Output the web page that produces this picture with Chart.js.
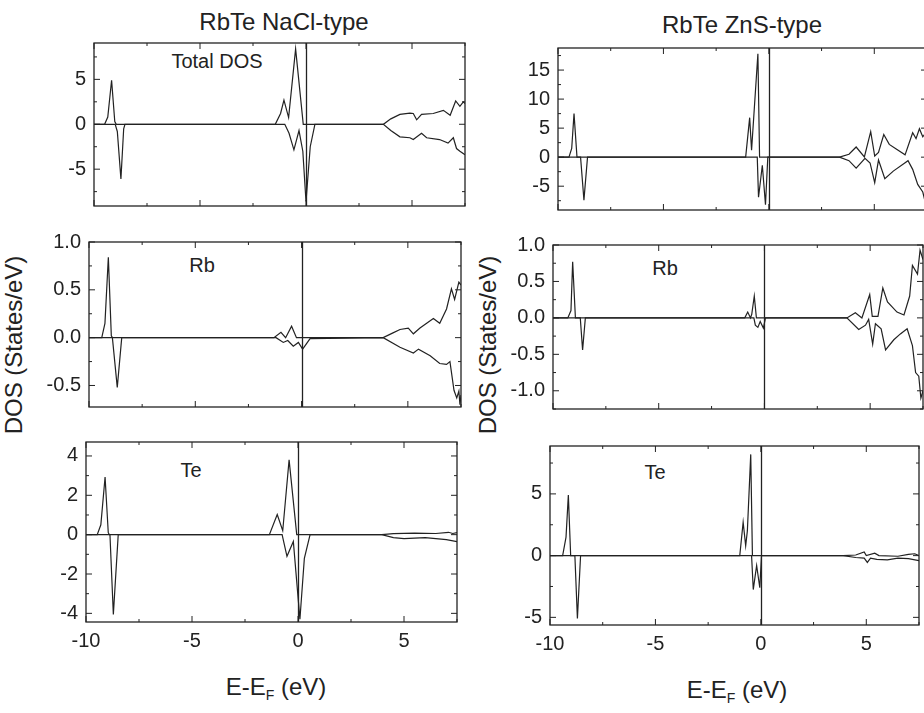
<!DOCTYPE html>
<html>
<head>
<meta charset="utf-8">
<script src="https://cdn.jsdelivr.net/npm/chart.js@4.4.1/dist/chart.umd.min.js"></script>
<style>
html, body { margin:0; padding:0; width:924px; height:713px; overflow:hidden; background:#fff; }
canvas { position:absolute; }
.lbl { position:absolute; font-family:"Liberation Sans", Arial, sans-serif; color:#222; white-space:nowrap; transform:translate(-50%,-50%); }
.rot { transform:translate(-50%,-50%) rotate(-90deg); }
sub { font-size:14px; }
</style>
</head>
<body>
<div class="lbl" style="left:284px;top:22px;font-size:24px">RbTe NaCl-type</div>
<div class="lbl" style="left:742px;top:25px;font-size:24px">RbTe ZnS-type</div>
<div class="lbl rot" style="left:14px;top:345px;font-size:24px">DOS (States/eV)</div>
<div class="lbl rot" style="left:488px;top:345px;font-size:24px">DOS (States/eV)</div>
<div class="lbl" style="left:276px;top:688px;font-size:24px">E-E<sub>F</sub> (eV)</div>
<div class="lbl" style="left:737px;top:691px;font-size:24px">E-E<sub>F</sub> (eV)</div>
<div class="lbl" style="left:217px;top:61px;font-size:20px">Total DOS</div>
<div class="lbl" style="left:202px;top:265px;font-size:20px">Rb</div>
<div class="lbl" style="left:191px;top:470px;font-size:20px">Te</div>
<div class="lbl" style="left:665px;top:268px;font-size:20px">Rb</div>
<div class="lbl" style="left:655px;top:472px;font-size:20px">Te</div>

<canvas id="c1"></canvas>
<canvas id="c2"></canvas>
<canvas id="c3"></canvas>
<canvas id="c4"></canvas>
<canvas id="c5"></canvas>
<canvas id="c6"></canvas>

<script>
// energy E-EF (eV) and DOS, spin up (+) / spin down (-)
const naclTotalUp = [[-10,0],[-9.5,0],[-9.35,0.8],[-9.17,4.9],[-9.02,0.3],[-8.95,0],[-1.45,0],[-1.2,1.2],[-1.04,2.7],[-0.82,0.75],[-0.49,8.4],[-0.13,0],[3.65,0],[4.0,0.6],[4.43,1.1],[4.9,1.25],[5.06,1.2],[5.22,0.5],[5.45,1.1],[6.0,1.2],[6.48,1.55],[6.8,1.0],[7.06,2.6],[7.26,2.0],[7.42,2.5],[7.5,2.3]];
const naclTotalDown = [[-10,0],[-9.0,0],[-8.9,-0.8],[-8.73,-6.1],[-8.6,-0.5],[-8.54,0],[-1.0,0],[-0.8,-1.0],[-0.57,-2.85],[-0.33,-0.7],[-0.15,-3.0],[0.0,-8.6],[0.2,-2.5],[0.42,0],[3.65,0],[4.0,-0.7],[4.43,-1.4],[4.9,-1.5],[5.06,-1.7],[5.45,-1.0],[5.69,-1.5],[6.3,-1.7],[6.7,-2.1],[6.95,-1.5],[7.1,-2.7],[7.26,-3.0],[7.5,-3.4]];
const naclRbUp = [[-10,0],[-9.4,0],[-9.25,0.15],[-9.09,0.84],[-8.95,0.02],[-8.9,0],[-1.3,0],[-0.97,0.055],[-0.75,0],[-0.47,0.12],[-0.24,0],[3.84,0],[4.3,0.05],[4.63,0.085],[5.02,0.1],[5.26,0.04],[5.57,0.1],[6.2,0.2],[6.5,0.15],[6.82,0.3],[7.05,0.51],[7.2,0.4],[7.4,0.58],[7.5,0.55]];
const naclRbDown = [[-10,0],[-8.9,0],[-8.67,-0.52],[-8.46,0],[-1.2,0],[-0.86,-0.05],[-0.65,-0.03],[-0.39,-0.09],[-0.15,-0.05],[0.05,-0.12],[0.4,-0.01],[3.84,0],[4.63,-0.1],[5.26,-0.16],[5.5,-0.12],[6.05,-0.19],[6.5,-0.27],[6.82,-0.28],[6.98,-0.25],[7.17,-0.55],[7.3,-0.63],[7.4,-0.56],[7.45,-0.7],[7.5,-0.6]];
const naclTeUp = [[-10,0],[-9.47,0],[-9.3,0.5],[-9.1,2.93],[-8.95,0.1],[-8.9,0],[-1.35,0],[-0.98,1.02],[-0.72,0.2],[-0.42,3.8],[-0.06,0],[3.95,0],[4.5,0.05],[5.5,0.08],[6.5,0.06],[7.1,0.12],[7.3,0.06],[7.5,0.1]];
const naclTeDown = [[-10,0],[-8.87,0],[-8.71,-4.06],[-8.48,0],[-0.75,0],[-0.52,-1.1],[-0.22,-0.35],[0.09,-4.3],[0.3,-1.2],[0.57,0],[3.95,0],[4.5,-0.15],[5.0,-0.2],[6.0,-0.15],[6.5,-0.2],[7.0,-0.25],[7.5,-0.35]];

const znsTotalUp = [[-10,0],[-9.48,0],[-9.35,1.5],[-9.24,7.5],[-9.1,0],[-1.1,0],[-0.91,6.8],[-0.82,1.2],[-0.52,17.8],[-0.44,0],[3.35,0],[3.8,0.5],[4.14,1.75],[4.53,0.05],[4.83,4.4],[5.02,0.2],[5.2,0.8],[5.45,3.9],[5.71,2.2],[6.04,1.4],[6.46,0.4],[6.82,4.2],[6.98,3.2],[7.14,4.9],[7.3,3.5],[7.5,4.5]];
const znsTotalDown = [[-10,0],[-8.93,0],[-8.77,-7.4],[-8.6,0],[-0.55,0],[-0.49,-6.9],[-0.31,-1.4],[-0.16,-8.2],[-0.05,0],[3.35,0],[3.8,-0.6],[4.14,-1.9],[4.56,-0.2],[4.8,-1.0],[5.02,-4.4],[5.2,-0.5],[5.5,-3.7],[5.9,-2.4],[6.6,-0.6],[6.82,-2.1],[7.06,-4.7],[7.3,-6.0],[7.5,-9.0]];
const znsRbUp = [[-10,0],[-9.3,0],[-9.15,0.1],[-9.07,0.77],[-8.94,0],[-0.93,0],[-0.79,0.08],[-0.66,0],[-0.6,0.05],[-0.48,0.3],[-0.38,0],[3.9,0],[4.3,0.07],[4.61,0],[4.98,0.32],[5.1,0.02],[5.37,0.02],[5.6,0.41],[5.82,0.22],[6.27,0.08],[6.6,0.04],[6.87,0.3],[7.0,0.72],[7.24,0.6],[7.36,0.93],[7.5,0.8]];
const znsRbDown = [[-10,0],[-8.71,0],[-8.6,-0.44],[-8.47,0],[-0.5,0],[-0.43,-0.1],[-0.31,-0.13],[-0.2,-0.05],[-0.05,-0.14],[0.05,0],[3.9,0],[4.46,-0.16],[4.78,-0.1],[4.93,-0.02],[5.12,-0.36],[5.25,-0.08],[5.52,-0.15],[5.73,-0.44],[6.12,-0.3],[6.43,-0.22],[6.75,-0.15],[7.0,-0.38],[7.15,-0.75],[7.3,-0.8],[7.4,-1.1],[7.5,-1.0]];
const znsTeUp = [[-10,0],[-9.4,0],[-9.24,1.5],[-9.13,4.9],[-9.02,0],[-1.0,0],[-0.84,2.7],[-0.72,0.8],[-0.64,2.0],[-0.48,8.2],[-0.4,0],[3.9,0],[4.5,0.05],[4.9,0.3],[5.0,0],[5.4,0.2],[5.6,0],[6.5,-0.05],[7.0,0.1],[7.3,0.15],[7.5,0]];
const znsTeDown = [[-10,0],[-8.82,0],[-8.7,-5.1],[-8.55,0],[-0.44,0],[-0.36,-2.75],[-0.2,-0.8],[-0.05,-2.6],[0.03,0],[3.9,0],[4.5,-0.15],[4.9,-0.2],[5.05,-0.55],[5.2,-0.2],[5.5,-0.3],[6.0,-0.35],[6.5,-0.2],[7.0,-0.25],[7.5,-0.4]];

const energyRange = [-10, 7.5];

const ink = '#222';
const fontFamily = '"Liberation Sans", Arial, sans-serif';

// frame, inward ticks and Fermi level line
const framePlugin = {
    id: 'frame',
    afterDatasetsDraw(chart, args, opts) {
        const {ctx, chartArea: a, scales: {x, y}} = chart;
        ctx.save();
        ctx.strokeStyle = ink;
        ctx.lineWidth = 1.3;
        ctx.strokeRect(a.left, a.top, a.width, a.height);

        const xf = Math.round(x.getPixelForValue(0)) + 0.5;
        ctx.beginPath();
        ctx.moveTo(xf, a.top);
        ctx.lineTo(xf, a.bottom);
        ctx.stroke();

        ctx.lineWidth = 1;
        ctx.beginPath();
        for (let v = Math.ceil(x.min / 2.5) * 2.5; v <= x.max + 1e-9; v += 2.5) {
            const px = x.getPixelForValue(v);
            const len = Math.abs(v % 5) < 1e-9 ? 6 : 3;
            ctx.moveTo(px, a.bottom); ctx.lineTo(px, a.bottom - len);
            ctx.moveTo(px, a.top); ctx.lineTo(px, a.top + len);
        }
        const m = opts.minor, M = opts.major;
        for (let v = Math.ceil(y.min / m) * m; v <= y.max + 1e-9; v += m) {
            const py = y.getPixelForValue(v);
            const r = Math.abs(v / M - Math.round(v / M));
            const len = r < 1e-6 ? 6 : 3;
            ctx.moveTo(a.left, py); ctx.lineTo(a.left + len, py);
            ctx.moveTo(a.right, py); ctx.lineTo(a.right - len, py);
        }
        ctx.stroke();
        ctx.restore();
    }
};

const panels = [
    {id:'c1', originX:0,   box:[94,465,37,222],  yRange:[-9.1,9.05],   step:5,   minor:2.5,  dec:0, up:naclTotalUp, down:naclTotalDown, showX:false},
    {id:'c2', originX:0,   box:[89,461,236,423], yRange:[-0.725,1.0],  step:0.5, minor:0.25, dec:1, up:naclRbUp,    down:naclRbDown,    showX:false},
    {id:'c3', originX:0,   box:[86,457,436,622], yRange:[-4.44,4.71],  step:2,   minor:1,    dec:0, up:naclTeUp,    down:naclTeDown,    showX:true},
    {id:'c4', originX:500, box:[558,927,42,226], yRange:[-9.1,18.8],   step:5,   minor:2.5,  dec:0, up:znsTotalUp,  down:znsTotalDown,  showX:false},
    {id:'c5', originX:500, box:[553,923,239,425],yRange:[-1.25,1.0],   step:0.5, minor:0.25, dec:1, up:znsRbUp,     down:znsRbDown,     showX:false},
    {id:'c6', originX:500, box:[550,919,440,625],yRange:[-5.62,8.88],  step:5,   minor:2.5,  dec:0, up:znsTeUp,     down:znsTeDown,     showX:true}
];

function curve(points) {
    return {
        data: points.map(([e, d]) => ({x: e, y: d})),
        borderColor: ink,
        borderWidth: 1.2,
        pointRadius: 0,
        tension: 0,
        fill: false
    };
}

for (const p of panels) {
    const [l, r, t, b] = p.box;
    const padL = l - p.originX, padT = 14, padR = 8, padB = p.showX ? 40 : 4;
    const canvas = document.getElementById(p.id);
    canvas.width = r - l + padL + padR;
    canvas.height = b - t + padT + padB;
    canvas.style.left = p.originX + 'px';
    canvas.style.top = (t - padT) + 'px';

    new Chart(canvas, {
        type: 'line',
        data: { datasets: [curve(p.up), curve(p.down)] },
        plugins: [framePlugin],
        options: {
            responsive: false,
            animation: false,
            devicePixelRatio: 1,
            layout: { padding: { left: 0, right: padR, top: padT, bottom: 0 } },
            plugins: {
                legend: { display: false },
                tooltip: { enabled: false },
                frame: { major: p.step, minor: p.minor }
            },
            scales: {
                x: {
                    type: 'linear',
                    min: energyRange[0],
                    max: energyRange[1],
                    grid: { display: false, drawTicks: false },
                    border: { display: false },
                    ticks: {
                        display: p.showX,
                        stepSize: 5,
                        includeBounds: false,
                        padding: 7,
                        color: ink,
                        font: { family: fontFamily, size: 20 },
                        maxRotation: 0,
                        callback: v => String(v)
                    },
                    afterFit: s => { s.height = padB; }
                },
                y: {
                    type: 'linear',
                    min: p.yRange[0],
                    max: p.yRange[1],
                    grid: { display: false, drawTicks: false },
                    border: { display: false },
                    ticks: {
                        stepSize: p.step,
                        includeBounds: false,
                        padding: 8,
                        color: ink,
                        font: { family: fontFamily, size: 20 },
                        callback: v => Number(v).toFixed(p.dec)
                    },
                    afterFit: s => { s.width = padL; }
                }
            }
        }
    });
}
</script>
</body>
</html>
